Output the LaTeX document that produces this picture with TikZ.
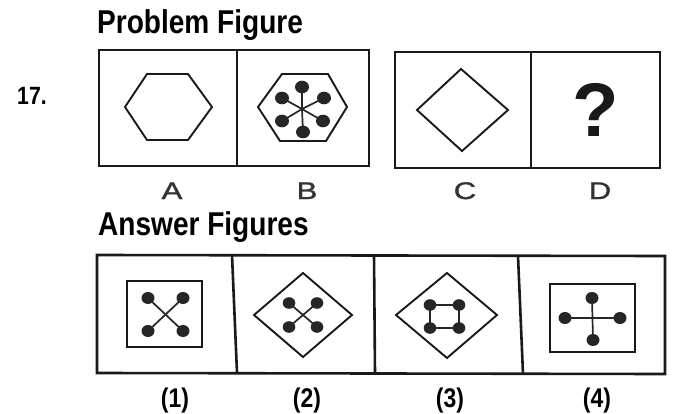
\documentclass[tikz,border=0pt]{standalone}
\usepackage{fontspec}
\newfontfamily\headfont[FakeStretch=0.85]{Liberation Sans}
\newfontfamily\numfont[FakeStretch=0.85]{Liberation Sans}
\newfontfamily\labfont[FakeStretch=1.3,FakeBold=1.3]{Liberation Sans}
\newfontfamily\qfont{Liberation Sans}
\begin{document}
\begin{tikzpicture}[x=1pt,y=-1pt,
  frame/.style={draw=black!90,line width=2.6pt},
  outline/.style={draw=black!90,line width=1.9pt,line join=miter},
  spoke/.style={draw=black!85,line width=1.7pt},
  dot/.style={fill=black!85},
  heading/.style={anchor=base west,inner sep=0pt,font=\headfont\bfseries\fontsize{33}{33}\selectfont},
  letter/.style={anchor=base,inner sep=0pt,text=black!80,font=\labfont\fontsize{24}{24}\selectfont},
  optlabel/.style={anchor=base,inner sep=0pt,font=\numfont\bfseries\fontsize{27}{27}\selectfont}]
\useasboundingbox (0,0) rectangle (676,414);
\fill[white] (0,0) rectangle (676,414);

% headings
\node[heading] (ph) at (97,34) {Problem Figure};
\node[heading] (ah) at (98,235) {Answer Figures};
\node[anchor=base west,inner sep=0pt,font=\numfont\bfseries\fontsize{25}{25}\selectfont] (qn) at (17,105) {17.};

% problem figure frames
\draw[frame] (99,50) rectangle (369,166);
\draw[frame] (237,50) -- (237,166);
\draw[frame] (395,52) rectangle (660,168);
\draw[frame] (531,52) -- (531,168);

% A: hexagon
\draw[outline] (125,107) -- (147,74) -- (188,74) -- (212,107) -- (188,140) -- (147,140) -- cycle;

% B: hexagon with six dots
\draw[outline] (258,107) -- (282,74) -- (328,74) -- (347,107) -- (326,141) -- (280,141) -- cycle;
\coordinate (bc) at (302,109);
\foreach \p in {(302,87),(282,98),(324,98),(282,121),(323,121),(303,132)}{
  \draw[spoke] (bc) -- \p;
  \fill[dot] \p ellipse (7 and 6.3);
}

% C: diamond
\draw[outline] (417,110) -- (461,69) -- (508,110) -- (462,151) -- cycle;

% D: question mark
\node[anchor=base,inner sep=0pt,font=\qfont\bfseries\fontsize{76}{76}\selectfont,text=black!90] (qm) at (596,137) {?};

% labels
\node[letter] (la) at (172,199) {A};
\node[letter] (lb) at (307,199) {B};
\node[letter] (lc) at (465,199) {C};
\node[letter] (ld) at (600,199) {D};

% answer frames
\draw[frame] (97,255) -- (665,256) -- (665,374) -- (97,373) -- cycle;
\draw[frame] (232,255) -- (237,373);
\draw[frame] (374,255) -- (375,374);
\draw[frame] (518,256) -- (523,374);

% (1)
\draw[outline] (127,281) rectangle (202,347);
\draw[spoke] (148,298) -- (183,331);
\draw[spoke] (183,298) -- (148,331);
\foreach \p in {(148,298),(183,298),(148,331),(183,331)} \fill[dot] \p ellipse (6.5 and 6);

% (2)
\draw[outline] (254,315) -- (303,273) -- (352,315) -- (303,357) -- cycle;
\draw[spoke] (289,303) -- (317,327);
\draw[spoke] (317,303) -- (289,327);
\foreach \p in {(289,303),(317,303),(289,327),(317,327)} \fill[dot] \p ellipse (6.3 and 5.8);

% (3)
\draw[outline] (396,315) -- (447,273) -- (497,315) -- (447,358) -- cycle;
\draw[spoke] (430,305) -- (459,305) -- (459,328) -- (430,328) -- cycle;
\foreach \p in {(430,305),(459,305),(430,328),(459,328)} \fill[dot] \p ellipse (6.3 and 5.8);

% (4)
\draw[outline] (550,284) rectangle (635,352);
\draw[spoke] (592,298) -- (593,340);
\draw[spoke] (565,318) -- (620,318);
\foreach \p in {(592,298),(593,340),(565,318),(620,318)} \fill[dot] \p ellipse (6.5 and 6);

% option labels
\node[optlabel] (o1) at (175,407) {(1)};
\node[optlabel] (o2) at (307,407) {(2)};
\node[optlabel] (o3) at (450,407) {(3)};
\node[optlabel] (o4) at (597,407) {(4)};
\end{tikzpicture}
\end{document}
